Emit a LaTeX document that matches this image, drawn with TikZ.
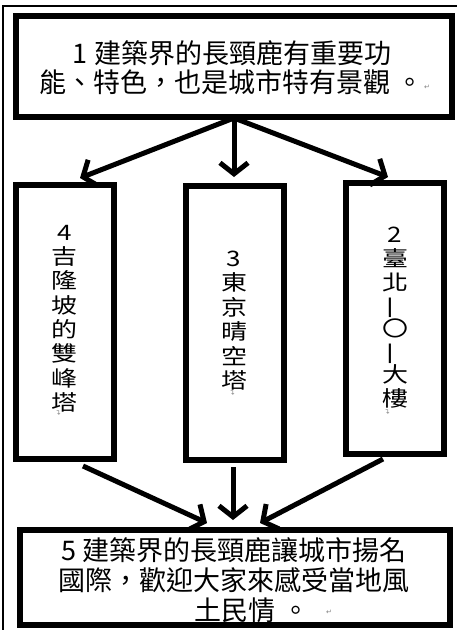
\documentclass[tikz,border=0pt]{standalone}
\usepackage{fontspec}
\usepackage{graphicx}
\newfontfamily\cjk{Noto Sans CJK TC}
\newfontfamily\symfont{DejaVu Sans}
\usetikzlibrary{arrows.meta}
\newcommand\vstack[1]{\scalebox{1}[0.82]{\begin{tabular}{@{}c@{}}#1\end{tabular}}}
\newcommand\vone{\rotatebox[origin=c]{90}{一}}
\begin{document}
\begin{tikzpicture}[x=1pt,y=-1pt,
  box/.style={draw,line width=6pt,inner sep=0pt},
  arr/.style={line width=5pt,-{Straight Barb[length=11pt,width=28pt]}},
  htext/.style={font=\cjk\fontsize{27}{29}\selectfont,align=center,inner sep=0pt},
  vtext/.style={font=\cjk\fontsize{26}{26}\selectfont,inner sep=0pt},
  pmark/.style={font=\symfont\fontsize{7}{7}\selectfont,text=gray,inner sep=0pt}]
\useasboundingbox (0,0) rectangle (457,630);
\draw[line width=1.5pt] (3,640) -- (3,6) -- (470,6);
% boxes
\node[box,minimum width=436pt,minimum height=101pt] (top) at (234,66.5) {};
\node[box,minimum width=98pt,minimum height=274pt] (b4) at (65,322) {};
\node[box,minimum width=98pt,minimum height=274pt] (b3) at (235,323) {};
\node[box,minimum width=98pt,minimum height=271pt] (b2) at (395,318.5) {};
\node[box,minimum width=430pt,minimum height=95pt] (bot) at (235,577.5) {};
% texts
\node[htext] (t1) at (232,68) {1 建築界的長頸鹿有重要功\\能、特色，也是城市特有景觀 。};
\node[pmark] (m1) at (427,87) {↵};
\node[vtext] (t4) at (65,321) {\vstack{4\\吉\\隆\\坡\\的\\雙\\峰\\塔}};
\node[pmark,rotate=90] (m4) at (59,413) {↵};
\node[vtext] (t3) at (234,323) {\vstack{3\\東\\京\\晴\\空\\塔}};
\node[pmark,rotate=90] (m3) at (233,393) {↵};
\node[vtext] (t2) at (395,320) {\vstack{2\\臺\\北\\\vone\\〇\\\vone\\大\\樓}};
\node[pmark,rotate=90] (m2) at (388,412) {↵};
\node[htext,font=\cjk\fontsize{27}{30}\selectfont] (t5) at (234,580.5) {5 建築界的長頸鹿讓城市揚名\\國際，歡迎大家來感受當地風\\\hspace*{36pt}土民情 。};
\node[pmark] (m5) at (329,612) {↵};
% arrows
\coordinate (s1) at (234,118);
\draw[arr] (s1) -- ([xshift=15pt,yshift=4pt]b4.north);
\draw[arr] (s1) -- ([xshift=-1pt,yshift=6pt]b3.north);
\draw[arr] (s1) -- ([xshift=-7pt,yshift=3pt]b2.north);
\draw[arr] ([xshift=18pt,yshift=-4pt]b4.south) -- ([xshift=-28pt,yshift=4pt]bot.north);
\draw[arr] ([xshift=-2pt,yshift=-4pt]b3.south) -- ([xshift=-2pt,yshift=7pt]bot.north);
\draw[arr] ([xshift=-12pt,yshift=-2pt]b2.south) -- ([xshift=25pt,yshift=4pt]bot.north);
\end{tikzpicture}
\end{document}
